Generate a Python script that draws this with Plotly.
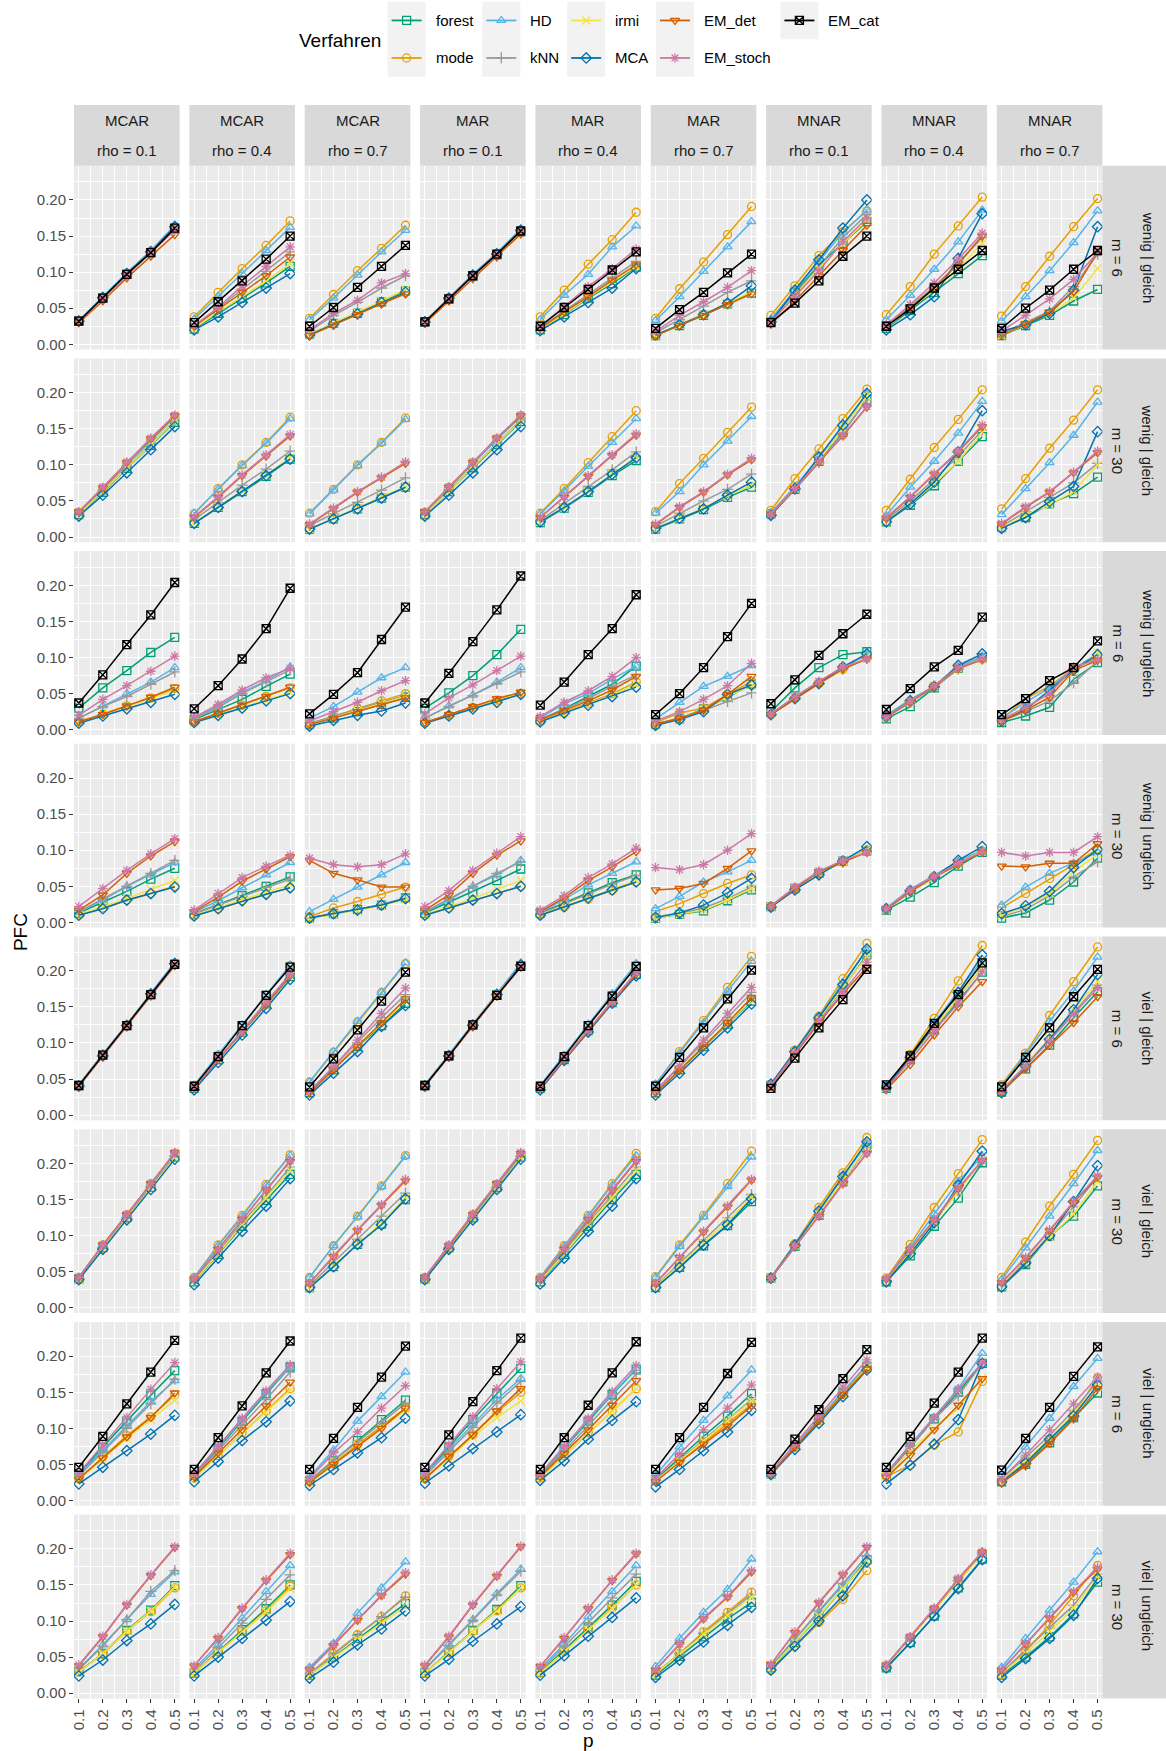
import plotly.graph_objects as go

# ---------------------------------------------------------------------------
# Facet definitions
# ---------------------------------------------------------------------------
P_VALUES = [0.1, 0.2, 0.3, 0.4, 0.5]
P_LABELS = ["0.1", "0.2", "0.3", "0.4", "0.5"]
Y_TICKS = [0.0, 0.05, 0.10, 0.15, 0.20]
Y_LABELS = ["0.00", "0.05", "0.10", "0.15", "0.20"]

METHODS = ["forest", "mode", "HD", "kNN", "irmi", "MCA", "EM_det", "EM_stoch", "EM_cat"]
MECHANISMS = ["MCAR", "MCAR", "MCAR", "MAR", "MAR", "MAR", "MNAR", "MNAR", "MNAR"]
RHOS = ["rho = 0.1", "rho = 0.4", "rho = 0.7"] * 3
ROW_FACETS = [
    ("wenig | gleich", "m = 6"),
    ("wenig | gleich", "m = 30"),
    ("wenig | ungleich", "m = 6"),
    ("wenig | ungleich", "m = 30"),
    ("viel | gleich", "m = 6"),
    ("viel | gleich", "m = 30"),
    ("viel | ungleich", "m = 6"),
    ("viel | ungleich", "m = 30"),
]

# ---------------------------------------------------------------------------
# PFC values: one dict per facet row, method -> 9 panels (columns) x 5 p values
# ---------------------------------------------------------------------------
wenig_gleich_m6 = {
    "forest":   [[0.032,0.064,0.097,0.127,0.160],[0.021,0.043,0.064,0.085,0.108],[0.014,0.029,0.043,0.059,0.074],[0.031,0.063,0.095,0.124,0.156],[0.020,0.041,0.064,0.084,0.107],[0.012,0.026,0.040,0.056,0.071],[0.031,0.072,0.110,0.140,0.170],[0.022,0.047,0.072,0.098,0.123],[0.012,0.026,0.040,0.060,0.076]],
    "mode":     [[0.032,0.065,0.098,0.129,0.162],[0.038,0.072,0.105,0.137,0.171],[0.036,0.069,0.102,0.133,0.165],[0.031,0.064,0.096,0.126,0.158],[0.038,0.075,0.111,0.145,0.183],[0.036,0.077,0.114,0.152,0.191],[0.040,0.081,0.123,0.156,0.185],[0.041,0.080,0.125,0.164,0.204],[0.039,0.080,0.122,0.163,0.202]],
    "HD":       [[0.033,0.066,0.099,0.130,0.165],[0.035,0.066,0.098,0.130,0.162],[0.034,0.064,0.096,0.128,0.158],[0.032,0.065,0.097,0.127,0.160],[0.034,0.068,0.097,0.135,0.164],[0.033,0.066,0.101,0.135,0.170],[0.035,0.075,0.115,0.155,0.186],[0.034,0.068,0.104,0.142,0.186],[0.032,0.066,0.102,0.141,0.185]],
    "kNN":      [[0.032,0.064,0.097,0.128,0.161],[0.024,0.050,0.076,0.101,0.128],[0.018,0.040,0.058,0.078,0.095],[0.031,0.063,0.095,0.125,0.157],[0.023,0.046,0.070,0.093,0.115],[0.016,0.034,0.053,0.072,0.088],[0.032,0.070,0.108,0.148,0.180],[0.025,0.053,0.080,0.112,0.148],[0.015,0.030,0.046,0.080,0.125]],
    "irmi":     [[0.032,0.064,0.097,0.127,0.160],[0.022,0.045,0.066,0.088,0.112],[0.014,0.029,0.044,0.060,0.076],[0.031,0.063,0.095,0.124,0.156],[0.021,0.042,0.065,0.086,0.108],[0.012,0.027,0.041,0.057,0.073],[0.031,0.068,0.105,0.140,0.172],[0.023,0.050,0.075,0.105,0.140],[0.012,0.028,0.043,0.064,0.105]],
    "MCA":      [[0.032,0.065,0.098,0.128,0.163],[0.020,0.038,0.058,0.078,0.098],[0.013,0.028,0.042,0.058,0.072],[0.031,0.064,0.096,0.125,0.158],[0.019,0.038,0.058,0.078,0.105],[0.013,0.027,0.041,0.057,0.081],[0.031,0.075,0.117,0.161,0.200],[0.020,0.041,0.066,0.119,0.181],[0.018,0.027,0.043,0.075,0.163]],
    "EM_det":   [[0.030,0.060,0.092,0.122,0.152],[0.025,0.048,0.072,0.095,0.121],[0.012,0.027,0.041,0.056,0.070],[0.029,0.060,0.091,0.121,0.153],[0.022,0.045,0.066,0.089,0.110],[0.012,0.026,0.040,0.055,0.070],[0.028,0.060,0.095,0.130,0.165],[0.024,0.051,0.078,0.112,0.150],[0.012,0.028,0.045,0.073,0.128]],
    "EM_stoch": [[0.032,0.064,0.096,0.127,0.158],[0.026,0.051,0.081,0.108,0.135],[0.020,0.043,0.061,0.085,0.098],[0.031,0.063,0.095,0.125,0.157],[0.025,0.052,0.080,0.105,0.132],[0.018,0.040,0.059,0.079,0.102],[0.031,0.066,0.102,0.142,0.175],[0.027,0.055,0.085,0.118,0.154],[0.018,0.040,0.063,0.090,0.127]],
    "EM_cat":   [[0.032,0.064,0.097,0.127,0.161],[0.030,0.059,0.088,0.118,0.150],[0.025,0.051,0.079,0.108,0.137],[0.031,0.063,0.095,0.125,0.157],[0.025,0.051,0.076,0.103,0.128],[0.022,0.048,0.072,0.099,0.125],[0.030,0.057,0.088,0.122,0.150],[0.025,0.049,0.078,0.104,0.130],[0.022,0.050,0.075,0.104,0.130]],
}

wenig_gleich_m30 = {
    "forest":   [[0.031,0.062,0.095,0.127,0.159],[0.019,0.041,0.063,0.084,0.108],[0.011,0.025,0.039,0.054,0.069],[0.031,0.063,0.096,0.128,0.160],[0.020,0.040,0.062,0.085,0.106],[0.011,0.025,0.038,0.055,0.069],[0.032,0.066,0.105,0.145,0.190],[0.021,0.044,0.071,0.105,0.139],[0.013,0.027,0.046,0.060,0.083]],
    "mode":     [[0.034,0.068,0.102,0.135,0.167],[0.032,0.067,0.100,0.131,0.166],[0.033,0.066,0.100,0.131,0.165],[0.034,0.069,0.103,0.136,0.168],[0.033,0.067,0.103,0.139,0.175],[0.035,0.074,0.109,0.145,0.180],[0.037,0.081,0.122,0.164,0.205],[0.037,0.080,0.124,0.163,0.204],[0.039,0.081,0.123,0.162,0.204]],
    "HD":       [[0.034,0.067,0.101,0.134,0.166],[0.033,0.066,0.099,0.130,0.164],[0.032,0.065,0.099,0.130,0.163],[0.034,0.068,0.102,0.135,0.167],[0.032,0.064,0.098,0.131,0.164],[0.033,0.063,0.100,0.133,0.167],[0.034,0.070,0.110,0.152,0.198],[0.030,0.069,0.105,0.144,0.188],[0.031,0.067,0.103,0.141,0.187]],
    "kNN":      [[0.032,0.064,0.097,0.129,0.161],[0.024,0.048,0.072,0.094,0.119],[0.016,0.032,0.048,0.065,0.082],[0.032,0.065,0.098,0.130,0.162],[0.023,0.046,0.070,0.093,0.118],[0.015,0.033,0.050,0.066,0.087],[0.031,0.066,0.103,0.145,0.190],[0.024,0.050,0.080,0.112,0.148],[0.015,0.035,0.055,0.075,0.102]],
    "irmi":     [[0.031,0.063,0.096,0.128,0.160],[0.020,0.042,0.064,0.086,0.110],[0.011,0.026,0.040,0.055,0.070],[0.031,0.063,0.097,0.129,0.161],[0.021,0.041,0.063,0.087,0.110],[0.012,0.026,0.040,0.057,0.072],[0.032,0.067,0.106,0.150,0.195],[0.022,0.046,0.074,0.105,0.145],[0.013,0.030,0.045,0.063,0.100]],
    "MCA":      [[0.029,0.058,0.089,0.121,0.153],[0.019,0.041,0.063,0.085,0.108],[0.011,0.025,0.039,0.054,0.069],[0.029,0.058,0.089,0.121,0.153],[0.021,0.041,0.063,0.087,0.110],[0.012,0.026,0.039,0.058,0.076],[0.030,0.067,0.111,0.155,0.199],[0.021,0.046,0.076,0.118,0.175],[0.012,0.027,0.049,0.070,0.146]],
    "EM_det":   [[0.035,0.068,0.103,0.136,0.168],[0.027,0.055,0.085,0.112,0.140],[0.017,0.039,0.062,0.082,0.102],[0.035,0.069,0.103,0.137,0.168],[0.027,0.055,0.084,0.113,0.141],[0.017,0.041,0.062,0.086,0.107],[0.032,0.067,0.104,0.140,0.180],[0.026,0.055,0.087,0.118,0.153],[0.018,0.041,0.062,0.089,0.117]],
    "EM_stoch": [[0.035,0.069,0.104,0.137,0.169],[0.028,0.056,0.086,0.114,0.142],[0.018,0.040,0.063,0.083,0.104],[0.035,0.069,0.104,0.137,0.169],[0.027,0.056,0.085,0.114,0.143],[0.018,0.042,0.063,0.087,0.109],[0.032,0.067,0.105,0.141,0.181],[0.027,0.056,0.088,0.119,0.155],[0.019,0.042,0.063,0.090,0.119]],
}

wenig_ungleich_m6 = {
    "forest":   [[0.030,0.058,0.082,0.107,0.128],[0.014,0.028,0.042,0.060,0.077],[0.007,0.016,0.025,0.035,0.045],[0.030,0.051,0.075,0.104,0.139],[0.014,0.029,0.046,0.063,0.088],[0.007,0.015,0.029,0.045,0.063],[0.025,0.058,0.086,0.104,0.108],[0.015,0.032,0.058,0.085,0.100],[0.010,0.019,0.031,0.070,0.093]],
    "mode":     [[0.011,0.022,0.033,0.044,0.057],[0.011,0.023,0.034,0.046,0.058],[0.008,0.019,0.029,0.040,0.050],[0.010,0.020,0.031,0.041,0.050],[0.012,0.024,0.037,0.050,0.066],[0.010,0.023,0.030,0.049,0.067],[0.021,0.044,0.065,0.084,0.100],[0.017,0.038,0.060,0.085,0.098],[0.014,0.043,0.060,0.085,0.100]],
    "HD":       [[0.016,0.033,0.050,0.066,0.086],[0.016,0.033,0.052,0.068,0.087],[0.016,0.032,0.052,0.072,0.086],[0.016,0.033,0.048,0.066,0.086],[0.016,0.036,0.050,0.070,0.088],[0.015,0.038,0.060,0.074,0.089],[0.022,0.045,0.066,0.086,0.104],[0.020,0.042,0.060,0.087,0.102],[0.016,0.038,0.058,0.084,0.106]],
    "kNN":      [[0.016,0.032,0.046,0.063,0.080],[0.015,0.031,0.050,0.066,0.083],[0.009,0.018,0.028,0.038,0.047],[0.016,0.032,0.047,0.064,0.080],[0.014,0.029,0.043,0.060,0.076],[0.008,0.016,0.027,0.039,0.051],[0.021,0.044,0.064,0.084,0.099],[0.017,0.038,0.059,0.084,0.098],[0.012,0.025,0.040,0.065,0.095]],
    "irmi":     [[0.011,0.021,0.032,0.043,0.055],[0.010,0.020,0.031,0.041,0.052],[0.007,0.017,0.026,0.036,0.046],[0.010,0.020,0.030,0.040,0.051],[0.011,0.023,0.035,0.048,0.063],[0.007,0.015,0.028,0.046,0.062],[0.021,0.044,0.065,0.084,0.101],[0.017,0.039,0.060,0.085,0.099],[0.013,0.030,0.050,0.080,0.107]],
    "MCA":      [[0.009,0.019,0.029,0.038,0.049],[0.010,0.020,0.030,0.040,0.050],[0.005,0.013,0.020,0.026,0.037],[0.009,0.019,0.029,0.038,0.049],[0.011,0.023,0.034,0.046,0.059],[0.006,0.014,0.025,0.049,0.062],[0.021,0.043,0.064,0.087,0.105],[0.018,0.040,0.060,0.089,0.105],[0.012,0.028,0.055,0.083,0.104]],
    "EM_det":   [[0.011,0.021,0.033,0.045,0.059],[0.011,0.023,0.034,0.046,0.059],[0.007,0.016,0.025,0.034,0.044],[0.010,0.021,0.032,0.043,0.052],[0.014,0.027,0.040,0.055,0.074],[0.008,0.016,0.027,0.049,0.074],[0.021,0.043,0.064,0.084,0.098],[0.017,0.038,0.060,0.085,0.097],[0.012,0.027,0.045,0.082,0.096]],
    "EM_stoch": [[0.020,0.042,0.061,0.081,0.102],[0.017,0.035,0.055,0.072,0.085],[0.012,0.025,0.038,0.054,0.068],[0.022,0.044,0.062,0.082,0.102],[0.018,0.038,0.054,0.074,0.100],[0.012,0.025,0.042,0.061,0.092],[0.022,0.046,0.067,0.087,0.098],[0.018,0.039,0.061,0.086,0.098],[0.014,0.031,0.050,0.087,0.097]],
    "EM_cat":   [[0.037,0.076,0.118,0.159,0.204],[0.029,0.061,0.098,0.140,0.196],[0.022,0.049,0.079,0.125,0.170],[0.037,0.078,0.122,0.166,0.213],[0.034,0.066,0.104,0.140,0.187],[0.021,0.050,0.086,0.129,0.175],[0.036,0.069,0.103,0.133,0.160],[0.028,0.057,0.087,0.110,0.156],[0.021,0.043,0.068,0.086,0.123]],
}

wenig_ungleich_m30 = {
    "forest":   [[0.013,0.028,0.043,0.060,0.075],[0.012,0.025,0.037,0.050,0.063],[0.006,0.012,0.018,0.024,0.034],[0.013,0.028,0.042,0.058,0.074],[0.013,0.027,0.041,0.055,0.066],[0.006,0.011,0.016,0.030,0.045],[0.022,0.047,0.068,0.085,0.099],[0.017,0.035,0.055,0.078,0.097],[0.006,0.013,0.031,0.056,0.089]],
    "mode":     [[0.010,0.020,0.031,0.040,0.050],[0.009,0.019,0.030,0.039,0.048],[0.008,0.020,0.029,0.039,0.049],[0.010,0.020,0.031,0.040,0.050],[0.010,0.021,0.032,0.044,0.056],[0.015,0.026,0.040,0.054,0.066],[0.022,0.047,0.069,0.085,0.100],[0.019,0.043,0.062,0.082,0.099],[0.020,0.040,0.061,0.080,0.102]],
    "HD":       [[0.014,0.031,0.050,0.066,0.083],[0.014,0.030,0.048,0.066,0.083],[0.015,0.032,0.049,0.066,0.083],[0.014,0.031,0.050,0.066,0.086],[0.014,0.032,0.052,0.068,0.084],[0.019,0.036,0.056,0.070,0.086],[0.023,0.048,0.070,0.086,0.101],[0.020,0.046,0.065,0.085,0.100],[0.024,0.049,0.068,0.082,0.097]],
    "kNN":      [[0.015,0.033,0.050,0.068,0.086],[0.012,0.024,0.036,0.049,0.060],[0.006,0.013,0.018,0.025,0.034],[0.015,0.033,0.050,0.068,0.084],[0.012,0.026,0.040,0.053,0.065],[0.006,0.012,0.020,0.033,0.049],[0.022,0.046,0.068,0.084,0.099],[0.018,0.042,0.062,0.081,0.098],[0.008,0.018,0.037,0.063,0.084]],
    "irmi":     [[0.011,0.022,0.033,0.046,0.058],[0.010,0.021,0.032,0.042,0.052],[0.005,0.011,0.016,0.023,0.032],[0.011,0.022,0.033,0.046,0.058],[0.011,0.022,0.034,0.046,0.058],[0.006,0.011,0.017,0.031,0.047],[0.022,0.047,0.068,0.085,0.100],[0.018,0.043,0.062,0.082,0.099],[0.010,0.022,0.040,0.070,0.095]],
    "MCA":      [[0.010,0.019,0.031,0.040,0.049],[0.009,0.019,0.030,0.039,0.048],[0.006,0.012,0.017,0.024,0.033],[0.010,0.020,0.031,0.040,0.050],[0.010,0.022,0.034,0.045,0.056],[0.007,0.013,0.024,0.041,0.061],[0.021,0.045,0.066,0.085,0.105],[0.019,0.044,0.063,0.086,0.105],[0.012,0.023,0.043,0.076,0.101]],
    "EM_det":   [[0.017,0.038,0.068,0.092,0.112],[0.015,0.035,0.057,0.074,0.091],[0.086,0.068,0.059,0.049,0.049],[0.017,0.038,0.068,0.093,0.113],[0.015,0.034,0.058,0.077,0.098],[0.045,0.047,0.054,0.075,0.099],[0.022,0.047,0.070,0.083,0.097],[0.018,0.043,0.063,0.080,0.097],[0.078,0.077,0.082,0.082,0.109]],
    "EM_stoch": [[0.022,0.047,0.072,0.095,0.116],[0.017,0.040,0.062,0.078,0.093],[0.089,0.080,0.077,0.080,0.095],[0.022,0.044,0.072,0.096,0.119],[0.017,0.037,0.062,0.081,0.103],[0.076,0.073,0.080,0.100,0.123],[0.023,0.049,0.071,0.086,0.097],[0.019,0.045,0.064,0.082,0.098],[0.097,0.092,0.097,0.097,0.119]],
}

viel_gleich_m6 = {
    "forest":   [[0.041,0.083,0.124,0.167,0.209],[0.037,0.077,0.115,0.154,0.192],[0.031,0.063,0.095,0.124,0.155],[0.041,0.082,0.125,0.167,0.207],[0.037,0.077,0.117,0.156,0.195],[0.031,0.063,0.095,0.126,0.158],[0.041,0.087,0.132,0.176,0.222],[0.037,0.077,0.118,0.157,0.198],[0.032,0.064,0.097,0.135,0.171]],
    "mode":     [[0.041,0.084,0.125,0.168,0.210],[0.041,0.083,0.124,0.166,0.207],[0.046,0.087,0.129,0.170,0.210],[0.041,0.083,0.125,0.167,0.208],[0.040,0.082,0.124,0.166,0.207],[0.042,0.088,0.131,0.177,0.220],[0.042,0.090,0.137,0.189,0.238],[0.040,0.084,0.134,0.186,0.235],[0.042,0.086,0.138,0.185,0.233]],
    "HD":       [[0.042,0.085,0.126,0.169,0.212],[0.041,0.084,0.125,0.167,0.208],[0.046,0.088,0.130,0.170,0.211],[0.042,0.084,0.127,0.169,0.211],[0.041,0.083,0.126,0.168,0.210],[0.043,0.086,0.128,0.172,0.213],[0.042,0.089,0.135,0.183,0.228],[0.040,0.081,0.128,0.172,0.215],[0.040,0.084,0.130,0.172,0.219]],
    "kNN":      [[0.041,0.083,0.124,0.167,0.209],[0.038,0.078,0.117,0.157,0.195],[0.033,0.067,0.100,0.135,0.167],[0.041,0.082,0.125,0.167,0.207],[0.038,0.078,0.118,0.158,0.198],[0.033,0.067,0.100,0.135,0.170],[0.041,0.087,0.132,0.177,0.220],[0.038,0.078,0.120,0.162,0.205],[0.034,0.069,0.104,0.142,0.180]],
    "irmi":     [[0.041,0.083,0.124,0.167,0.209],[0.038,0.077,0.116,0.155,0.193],[0.032,0.064,0.096,0.126,0.158],[0.041,0.082,0.125,0.167,0.207],[0.038,0.078,0.117,0.157,0.197],[0.031,0.064,0.096,0.127,0.159],[0.041,0.087,0.133,0.177,0.220],[0.038,0.078,0.121,0.163,0.205],[0.034,0.070,0.107,0.146,0.185]],
    "MCA":      [[0.040,0.082,0.124,0.168,0.210],[0.035,0.073,0.111,0.148,0.188],[0.028,0.058,0.088,0.123,0.152],[0.040,0.082,0.124,0.167,0.208],[0.035,0.076,0.115,0.155,0.193],[0.028,0.058,0.090,0.121,0.154],[0.043,0.088,0.135,0.181,0.230],[0.038,0.080,0.124,0.170,0.222],[0.031,0.068,0.105,0.146,0.195]],
    "EM_det":   [[0.040,0.082,0.123,0.165,0.207],[0.037,0.077,0.115,0.153,0.193],[0.031,0.063,0.095,0.128,0.161],[0.040,0.081,0.123,0.165,0.205],[0.037,0.077,0.117,0.156,0.196],[0.031,0.062,0.095,0.128,0.163],[0.040,0.084,0.128,0.168,0.205],[0.035,0.070,0.111,0.150,0.185],[0.032,0.064,0.097,0.128,0.164]],
    "EM_stoch": [[0.041,0.083,0.124,0.166,0.208],[0.038,0.078,0.116,0.156,0.195],[0.033,0.067,0.104,0.141,0.176],[0.041,0.082,0.124,0.166,0.206],[0.038,0.078,0.118,0.157,0.198],[0.034,0.068,0.104,0.141,0.177],[0.041,0.086,0.130,0.170,0.212],[0.037,0.076,0.117,0.155,0.199],[0.034,0.068,0.103,0.140,0.176]],
    "EM_cat":   [[0.041,0.083,0.124,0.167,0.209],[0.040,0.081,0.124,0.166,0.205],[0.039,0.078,0.118,0.158,0.198],[0.041,0.082,0.125,0.166,0.206],[0.040,0.081,0.124,0.165,0.206],[0.040,0.080,0.121,0.161,0.201],[0.037,0.079,0.121,0.160,0.202],[0.042,0.082,0.127,0.167,0.211],[0.039,0.080,0.121,0.164,0.202]],
}

viel_gleich_m30 = {
    "forest":   [[0.040,0.083,0.125,0.167,0.209],[0.036,0.074,0.113,0.149,0.185],[0.028,0.057,0.088,0.116,0.150],[0.040,0.083,0.125,0.167,0.209],[0.036,0.074,0.113,0.150,0.185],[0.028,0.056,0.086,0.114,0.147],[0.041,0.085,0.128,0.175,0.222],[0.036,0.072,0.113,0.152,0.201],[0.029,0.060,0.099,0.127,0.169]],
    "mode":     [[0.042,0.087,0.129,0.172,0.214],[0.042,0.087,0.128,0.171,0.212],[0.042,0.086,0.127,0.169,0.211],[0.042,0.086,0.129,0.171,0.213],[0.042,0.086,0.128,0.172,0.214],[0.043,0.087,0.128,0.172,0.217],[0.042,0.089,0.139,0.187,0.236],[0.041,0.088,0.139,0.186,0.233],[0.042,0.091,0.141,0.185,0.232]],
    "HD":       [[0.042,0.087,0.129,0.172,0.214],[0.042,0.086,0.127,0.170,0.211],[0.042,0.086,0.126,0.168,0.210],[0.042,0.086,0.129,0.171,0.213],[0.042,0.085,0.127,0.170,0.211],[0.042,0.085,0.126,0.168,0.209],[0.042,0.088,0.135,0.182,0.228],[0.040,0.084,0.130,0.175,0.210],[0.039,0.083,0.127,0.172,0.218]],
    "kNN":      [[0.040,0.083,0.125,0.168,0.210],[0.038,0.077,0.118,0.155,0.195],[0.031,0.063,0.095,0.127,0.159],[0.040,0.083,0.125,0.167,0.210],[0.038,0.078,0.118,0.156,0.195],[0.030,0.062,0.094,0.125,0.157],[0.041,0.085,0.129,0.175,0.222],[0.038,0.078,0.120,0.162,0.205],[0.031,0.064,0.101,0.140,0.182]],
    "irmi":     [[0.040,0.082,0.124,0.166,0.208],[0.037,0.075,0.115,0.152,0.190],[0.028,0.058,0.089,0.118,0.152],[0.040,0.082,0.124,0.166,0.208],[0.037,0.075,0.115,0.152,0.190],[0.029,0.059,0.090,0.120,0.153],[0.041,0.086,0.130,0.176,0.223],[0.038,0.077,0.119,0.161,0.205],[0.030,0.062,0.098,0.130,0.175]],
    "MCA":      [[0.039,0.081,0.122,0.164,0.206],[0.032,0.069,0.106,0.141,0.179],[0.028,0.057,0.088,0.115,0.151],[0.039,0.081,0.122,0.164,0.206],[0.033,0.069,0.106,0.141,0.179],[0.028,0.056,0.087,0.115,0.151],[0.041,0.087,0.134,0.182,0.230],[0.036,0.075,0.118,0.170,0.217],[0.029,0.062,0.100,0.147,0.197]],
    "EM_det":   [[0.042,0.087,0.129,0.172,0.215],[0.040,0.081,0.123,0.163,0.203],[0.034,0.071,0.107,0.142,0.176],[0.042,0.086,0.129,0.172,0.214],[0.040,0.081,0.122,0.163,0.203],[0.034,0.070,0.105,0.140,0.177],[0.041,0.085,0.127,0.172,0.214],[0.040,0.081,0.122,0.165,0.204],[0.035,0.069,0.107,0.146,0.181]],
    "EM_stoch": [[0.042,0.087,0.129,0.172,0.215],[0.040,0.081,0.123,0.164,0.204],[0.034,0.072,0.108,0.143,0.178],[0.042,0.087,0.130,0.172,0.215],[0.040,0.082,0.123,0.164,0.204],[0.034,0.070,0.106,0.141,0.178],[0.041,0.085,0.127,0.172,0.215],[0.040,0.081,0.122,0.166,0.204],[0.035,0.070,0.108,0.147,0.183]],
}

viel_ungleich_m6 = {
    "forest":   [[0.036,0.074,0.110,0.146,0.180],[0.035,0.072,0.110,0.148,0.185],[0.027,0.055,0.083,0.112,0.139],[0.036,0.074,0.112,0.148,0.183],[0.035,0.072,0.110,0.147,0.182],[0.029,0.059,0.089,0.117,0.148],[0.037,0.075,0.112,0.149,0.186],[0.035,0.074,0.113,0.150,0.190],[0.026,0.050,0.080,0.115,0.149]],
    "mode":     [[0.030,0.060,0.090,0.116,0.146],[0.031,0.062,0.094,0.124,0.155],[0.026,0.052,0.078,0.103,0.128],[0.030,0.061,0.091,0.122,0.150],[0.031,0.062,0.094,0.124,0.155],[0.027,0.054,0.081,0.107,0.133],[0.037,0.074,0.111,0.147,0.183],[0.033,0.049,0.077,0.095,0.165],[0.026,0.052,0.083,0.120,0.170]],
    "HD":       [[0.036,0.070,0.104,0.137,0.166],[0.036,0.074,0.112,0.150,0.185],[0.033,0.070,0.110,0.144,0.178],[0.036,0.071,0.106,0.140,0.169],[0.036,0.073,0.112,0.148,0.183],[0.035,0.074,0.111,0.145,0.181],[0.038,0.076,0.114,0.151,0.188],[0.038,0.077,0.115,0.155,0.204],[0.035,0.074,0.114,0.158,0.197]],
    "kNN":      [[0.034,0.067,0.100,0.134,0.168],[0.034,0.069,0.105,0.140,0.178],[0.028,0.056,0.081,0.108,0.135],[0.034,0.068,0.101,0.135,0.165],[0.034,0.068,0.104,0.140,0.175],[0.028,0.056,0.084,0.112,0.140],[0.037,0.075,0.112,0.149,0.186],[0.036,0.075,0.113,0.145,0.190],[0.030,0.060,0.090,0.125,0.165]],
    "irmi":     [[0.029,0.057,0.086,0.112,0.139],[0.031,0.062,0.093,0.123,0.153],[0.025,0.050,0.076,0.100,0.125],[0.029,0.058,0.088,0.115,0.138],[0.031,0.062,0.093,0.123,0.155],[0.027,0.055,0.082,0.110,0.138],[0.037,0.074,0.111,0.148,0.184],[0.034,0.068,0.100,0.128,0.170],[0.028,0.055,0.085,0.122,0.158]],
    "MCA":      [[0.023,0.046,0.069,0.092,0.118],[0.026,0.054,0.083,0.109,0.138],[0.021,0.043,0.066,0.087,0.114],[0.024,0.048,0.072,0.095,0.119],[0.028,0.055,0.085,0.111,0.137],[0.019,0.043,0.069,0.095,0.125],[0.036,0.071,0.107,0.144,0.181],[0.023,0.049,0.078,0.112,0.190],[0.026,0.052,0.085,0.117,0.160]],
    "EM_det":   [[0.030,0.059,0.088,0.115,0.149],[0.033,0.066,0.098,0.131,0.164],[0.025,0.050,0.075,0.100,0.128],[0.030,0.061,0.091,0.124,0.155],[0.033,0.065,0.098,0.132,0.166],[0.026,0.053,0.078,0.103,0.131],[0.037,0.074,0.111,0.147,0.182],[0.032,0.063,0.098,0.132,0.169],[0.024,0.048,0.079,0.113,0.155]],
    "EM_stoch": [[0.038,0.077,0.115,0.154,0.191],[0.037,0.075,0.114,0.152,0.188],[0.030,0.066,0.095,0.128,0.159],[0.038,0.077,0.116,0.155,0.192],[0.037,0.075,0.114,0.151,0.187],[0.031,0.064,0.098,0.128,0.160],[0.039,0.078,0.117,0.157,0.195],[0.037,0.076,0.115,0.154,0.191],[0.030,0.063,0.098,0.134,0.171]],
    "EM_cat":   [[0.046,0.089,0.134,0.178,0.222],[0.043,0.087,0.131,0.177,0.221],[0.043,0.086,0.129,0.171,0.214],[0.046,0.091,0.137,0.180,0.225],[0.043,0.087,0.132,0.177,0.220],[0.043,0.087,0.129,0.176,0.219],[0.043,0.085,0.126,0.169,0.209],[0.046,0.089,0.135,0.178,0.225],[0.042,0.086,0.129,0.172,0.213]],
}

viel_ungleich_m30 = {
    "forest":   [[0.030,0.055,0.087,0.115,0.149],[0.028,0.058,0.088,0.117,0.150],[0.025,0.050,0.076,0.100,0.124],[0.028,0.057,0.087,0.116,0.149],[0.029,0.060,0.092,0.122,0.155],[0.025,0.051,0.078,0.103,0.126],[0.035,0.070,0.106,0.145,0.185],[0.035,0.070,0.107,0.146,0.186],[0.025,0.050,0.078,0.110,0.154]],
    "mode":     [[0.030,0.054,0.086,0.113,0.146],[0.028,0.057,0.086,0.114,0.148],[0.027,0.055,0.081,0.106,0.135],[0.028,0.056,0.086,0.114,0.146],[0.028,0.058,0.089,0.118,0.150],[0.028,0.055,0.085,0.112,0.140],[0.032,0.065,0.098,0.130,0.170],[0.038,0.077,0.116,0.156,0.194],[0.026,0.058,0.095,0.135,0.177]],
    "HD":       [[0.034,0.067,0.102,0.137,0.168],[0.034,0.067,0.104,0.141,0.177],[0.036,0.069,0.111,0.146,0.182],[0.034,0.068,0.102,0.138,0.172],[0.034,0.068,0.106,0.141,0.177],[0.037,0.076,0.112,0.144,0.186],[0.037,0.075,0.113,0.150,0.190],[0.039,0.078,0.117,0.158,0.196],[0.036,0.076,0.115,0.154,0.196]],
    "kNN":      [[0.033,0.065,0.102,0.141,0.170],[0.031,0.063,0.097,0.130,0.164],[0.027,0.054,0.080,0.106,0.133],[0.033,0.066,0.101,0.136,0.169],[0.031,0.064,0.098,0.132,0.165],[0.027,0.055,0.083,0.110,0.137],[0.037,0.076,0.114,0.152,0.190],[0.038,0.077,0.116,0.156,0.194],[0.029,0.060,0.090,0.122,0.165]],
    "irmi":     [[0.029,0.055,0.086,0.114,0.147],[0.028,0.056,0.085,0.113,0.145],[0.025,0.049,0.074,0.097,0.120],[0.028,0.056,0.086,0.114,0.146],[0.028,0.057,0.088,0.117,0.150],[0.027,0.054,0.082,0.108,0.133],[0.035,0.071,0.107,0.145,0.183],[0.038,0.077,0.116,0.156,0.194],[0.027,0.055,0.085,0.118,0.160]],
    "MCA":      [[0.024,0.046,0.073,0.096,0.123],[0.024,0.050,0.076,0.101,0.127],[0.021,0.043,0.067,0.089,0.114],[0.024,0.047,0.072,0.096,0.120],[0.025,0.052,0.079,0.105,0.132],[0.022,0.046,0.071,0.094,0.119],[0.032,0.065,0.100,0.135,0.182],[0.035,0.070,0.107,0.145,0.185],[0.022,0.048,0.076,0.108,0.159]],
    "EM_det":   [[0.038,0.078,0.122,0.163,0.202],[0.038,0.076,0.117,0.156,0.192],[0.033,0.066,0.101,0.135,0.165],[0.038,0.078,0.122,0.162,0.203],[0.037,0.076,0.117,0.156,0.193],[0.032,0.068,0.103,0.133,0.168],[0.040,0.084,0.125,0.164,0.202],[0.039,0.078,0.117,0.158,0.195],[0.032,0.068,0.104,0.140,0.172]],
    "EM_stoch": [[0.039,0.079,0.123,0.164,0.203],[0.038,0.077,0.118,0.157,0.194],[0.033,0.067,0.102,0.136,0.167],[0.039,0.079,0.123,0.163,0.204],[0.037,0.077,0.118,0.157,0.194],[0.032,0.068,0.104,0.134,0.170],[0.040,0.085,0.126,0.165,0.203],[0.039,0.078,0.118,0.159,0.196],[0.032,0.069,0.105,0.141,0.174]],
}

ROWS = [wenig_gleich_m6, wenig_gleich_m30, wenig_ungleich_m6, wenig_ungleich_m30,
        viel_gleich_m6, viel_gleich_m30, viel_ungleich_m6, viel_ungleich_m30]

# ---------------------------------------------------------------------------
# Styling
# ---------------------------------------------------------------------------
COLORS = {
    "forest": "#009E73", "mode": "#E69F00", "HD": "#56B4E9", "kNN": "#999999",
    "irmi": "#F0E442", "MCA": "#0072B2", "EM_det": "#D55E00",
    "EM_stoch": "#CC79A7", "EM_cat": "#000000",
}
SYMBOLS = {
    "forest": "square-open", "mode": "circle-open", "HD": "triangle-up-open",
    "kNN": "cross-thin-open", "irmi": "x-thin-open", "MCA": "diamond-open",
    "EM_det": "triangle-down-open", "EM_stoch": "asterisk-open",
    "EM_cat": "square-x-open",
}
FONT = "Liberation Sans, Arial, Helvetica, sans-serif"
TEXT_SIZE = 15
TITLE_SIZE = 19

# Page geometry in pixels
W, H = 1166, 1751
PX0, PW, PXSTEP = 74.0, 105.6, 115.35
PY0, PH, PYSTEP = 165.7, 183.8, 192.7
STRIP_TOP = 105.0
STRIP_RIGHT_X0, STRIP_RIGHT_X1 = PX0 + 8 * PXSTEP + PW, 1166.0


def xdom(a, b):
    return [a / W, b / W]


def ydom(top, bottom):
    return [1 - bottom / H, 1 - top / H]


fig = go.Figure()
layout_axes = {}
shapes = []
annotations = []

for r, row in enumerate(ROWS):
    top = PY0 + r * PYSTEP
    bottom = top + PH
    for c in range(9):
        k = r * 9 + c + 1
        xa = "x" if k == 1 else f"x{k}"
        ya = "y" if k == 1 else f"y{k}"
        left = PX0 + c * PXSTEP
        right = left + PW

        # panel background
        shapes.append(dict(type="rect", xref=f"{xa} domain", yref=f"{ya} domain",
                           x0=0, x1=1, y0=0, y1=1, fillcolor="#EBEBEB",
                           line=dict(width=0), layer="below"))

        for m in METHODS:
            if m not in row:
                continue
            fig.add_trace(go.Scatter(
                x=P_VALUES, y=row[m][c], mode="lines+markers", name=m,
                xaxis=xa, yaxis=ya, showlegend=False, hoverinfo="skip",
                line=dict(color=COLORS[m], width=1.5),
                marker=dict(symbol=SYMBOLS[m], size=8, color=COLORS[m],
                            line=dict(color=COLORS[m], width=1.3)),
            ))

        bottom_row = r == len(ROWS) - 1
        first_col = c == 0
        layout_axes["xaxis" if k == 1 else f"xaxis{k}"] = dict(
            domain=xdom(left, right), anchor=ya, range=[0.08, 0.52],
            tickmode="array", tickvals=P_VALUES, ticktext=P_LABELS,
            showticklabels=bottom_row, ticks="outside" if bottom_row else "",
            ticklen=4, tickwidth=1.1, tickcolor="#333333", tickangle=-90,
            tickfont=dict(family=FONT, size=TEXT_SIZE, color="#4D4D4D"),
            showgrid=True, gridcolor="white", gridwidth=1.4,
            minor=dict(tickmode="array", tickvals=[0.15, 0.25, 0.35, 0.45],
                       showgrid=True, gridcolor="white", gridwidth=0.7, ticks=""),
            zeroline=False, showline=False, fixedrange=True, automargin=False,
        )
        layout_axes["yaxis" if k == 1 else f"yaxis{k}"] = dict(
            domain=ydom(top, bottom), anchor=xa, range=[-0.0072, 0.2475],
            tickmode="array", tickvals=Y_TICKS, ticktext=Y_LABELS,
            showticklabels=first_col, ticks="outside" if first_col else "",
            ticklen=4, tickwidth=1.1, tickcolor="#333333",
            tickfont=dict(family=FONT, size=TEXT_SIZE, color="#4D4D4D"),
            showgrid=True, gridcolor="white", gridwidth=1.4,
            minor=dict(tickmode="array", tickvals=[0.025, 0.075, 0.125, 0.175, 0.225],
                       showgrid=True, gridcolor="white", gridwidth=0.7, ticks=""),
            zeroline=False, showline=False, fixedrange=True, automargin=False,
        )

# top strips (mechanism / rho)
for c in range(9):
    left = PX0 + c * PXSTEP
    right = left + PW
    shapes.append(dict(type="rect", xref="paper", yref="paper",
                       x0=left / W, x1=right / W, y0=1 - PY0 / H, y1=1 - STRIP_TOP / H,
                       fillcolor="#D9D9D9", line=dict(width=0), layer="below"))
    half = (PY0 - STRIP_TOP) / 2
    for text, cy in ((MECHANISMS[c], STRIP_TOP + half / 2), (RHOS[c], STRIP_TOP + 1.5 * half)):
        annotations.append(dict(text=text, x=(left + right) / 2 / W, y=1 - cy / H,
                                xref="paper", yref="paper", showarrow=False,
                                xanchor="center", yanchor="middle",
                                font=dict(family=FONT, size=TEXT_SIZE, color="#1A1A1A")))

# right strips (group label / m)
for r, (group, m_label) in enumerate(ROW_FACETS):
    top = PY0 + r * PYSTEP
    bottom = top + PH
    shapes.append(dict(type="rect", xref="paper", yref="paper",
                       x0=STRIP_RIGHT_X0 / W, x1=STRIP_RIGHT_X1 / W,
                       y0=1 - bottom / H, y1=1 - top / H,
                       fillcolor="#D9D9D9", line=dict(width=0), layer="below"))
    for text, cx in ((m_label, STRIP_RIGHT_X0 + 15.2), (group, STRIP_RIGHT_X0 + 45.5)):
        annotations.append(dict(text=text, x=cx / W, y=1 - (top + bottom) / 2 / H,
                                xref="paper", yref="paper", showarrow=False,
                                textangle=90, xanchor="center", yanchor="middle",
                                font=dict(family=FONT, size=TEXT_SIZE, color="#1A1A1A")))

# axis titles
panels_mid_y = (PY0 + PY0 + 7 * PYSTEP + PH) / 2
panels_mid_x = (PX0 + PX0 + 8 * PXSTEP + PW) / 2
annotations.append(dict(text="PFC", x=20 / W, y=1 - panels_mid_y / H, xref="paper", yref="paper",
                        showarrow=False, textangle=-90, xanchor="center", yanchor="middle",
                        font=dict(family=FONT, size=TITLE_SIZE, color="black")))
annotations.append(dict(text="p", x=panels_mid_x / W, y=1 - 1740 / H, xref="paper", yref="paper",
                        showarrow=False, xanchor="center", yanchor="middle",
                        font=dict(family=FONT, size=TITLE_SIZE, color="black")))

# ---------------------------------------------------------------------------
# Legend drawn on its own pixel-scaled axis at the top of the page
# ---------------------------------------------------------------------------
LEG_H = 90
LEGEND_LAYOUT = [  # method, key left x, row
    ("forest", 387.6, 0), ("mode", 387.6, 1),
    ("HD", 482.3, 0), ("kNN", 482.3, 1),
    ("irmi", 567.2, 0), ("MCA", 567.2, 1),
    ("EM_det", 656.0, 0), ("EM_stoch", 656.0, 1),
    ("EM_cat", 780.4, 0),
]
KEY_W, KEY_H, KEY_TOP = 38.0, 37.5, 1.7
LABEL_GAP = 8.0
layout_axes["xaxis73"] = dict(domain=[0, 1], range=[0, W], visible=False,
                              fixedrange=True, anchor="y73")
layout_axes["yaxis73"] = dict(domain=[1 - LEG_H / H, 1], range=[LEG_H, 0], visible=False,
                              fixedrange=True, anchor="x73")
for m, kx, kr in LEGEND_LAYOUT:
    ky = KEY_TOP + kr * KEY_H
    cy = ky + KEY_H / 2
    shapes.append(dict(type="rect", xref="x73", yref="y73", x0=kx, x1=kx + KEY_W,
                       y0=ky, y1=ky + KEY_H, fillcolor="#F2F2F2",
                       line=dict(width=0), layer="below"))
    fig.add_trace(go.Scatter(x=[kx + 4, kx + KEY_W - 4], y=[cy, cy], mode="lines",
                             xaxis="x73", yaxis="y73", showlegend=False, hoverinfo="skip",
                             line=dict(color=COLORS[m], width=1.8)))
    fig.add_trace(go.Scatter(x=[kx + KEY_W / 2], y=[cy], mode="markers",
                             xaxis="x73", yaxis="y73", showlegend=False, hoverinfo="skip",
                             marker=dict(symbol=SYMBOLS[m], size=8, color=COLORS[m],
                                         line=dict(color=COLORS[m], width=1.3))))
    annotations.append(dict(text=m, x=(kx + KEY_W + LABEL_GAP) / W, y=1 - cy / H,
                            xref="paper", yref="paper", showarrow=False,
                            xanchor="left", yanchor="middle",
                            font=dict(family=FONT, size=TEXT_SIZE, color="black")))
annotations.append(dict(text="Verfahren", x=296.5 / W, y=1 - 40.7 / H, xref="paper", yref="paper",
                        showarrow=False, xanchor="left", yanchor="middle",
                        font=dict(family=FONT, size=TITLE_SIZE, color="black")))

fig.update_layout(
    width=W, height=H,
    margin=dict(l=0, r=0, t=0, b=0),
    paper_bgcolor="white", plot_bgcolor="rgba(0,0,0,0)",
    showlegend=False,
    shapes=shapes, annotations=annotations,
    font=dict(family=FONT),
    **layout_axes,
)

fig.write_html("out.html")
